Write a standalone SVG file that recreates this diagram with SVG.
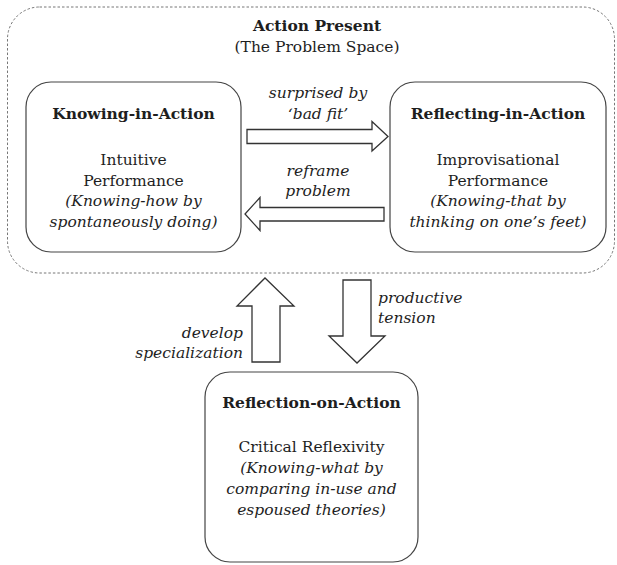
<svg xmlns="http://www.w3.org/2000/svg" width="617" height="565" viewBox="0 0 617 565">
<style>
text{font-family:"DejaVu Serif","Liberation Serif",serif;font-size:15.5px;fill:#1e1e1e}
.b{font-weight:bold}
.i{font-style:italic}
.c{text-anchor:middle}
.e{text-anchor:end}
.box{fill:#fff;stroke:#444;stroke-width:1.2}
.arr{fill:#fff;stroke:#333;stroke-width:1.3;stroke-linejoin:miter}
.dash{fill:none;stroke:#777;stroke-width:1;stroke-dasharray:2.5 2}
</style>
<rect width="617" height="565" fill="#fff"/>
<g id="action-present">
<rect class="dash" x="7.5" y="7" width="607" height="266" rx="32"/>
<text class="b c" x="317" y="31">Action Present</text>
<text class="c" x="317" y="52">(The Problem Space)</text>
</g>
<g id="knowing-in-action">
<rect class="box" x="26" y="82" width="215" height="170" rx="25"/>
<text class="b c" x="133.5" y="119">Knowing-in-Action</text>
<text class="c" x="133.5" y="165">Intuitive</text>
<text class="c" x="133.5" y="185.5">Performance</text>
<text class="c i" x="133.5" y="206">(Knowing-how by</text>
<text class="c i" x="133.5" y="226.5">spontaneously doing)</text>
</g>
<g id="reflecting-in-action">
<rect class="box" x="390" y="82" width="216" height="170" rx="25"/>
<text class="b c" x="498" y="119">Reflecting-in-Action</text>
<text class="c" x="498" y="165">Improvisational</text>
<text class="c" x="498" y="185.5">Performance</text>
<text class="c i" x="498" y="206">(Knowing-that by</text>
<text class="c i" x="498" y="226.5">thinking on one’s feet)</text>
</g>
<g id="reflection-on-action">
<rect class="box" x="205" y="372" width="213" height="190" rx="25"/>
<text class="b c" x="311.5" y="408">Reflection-on-Action</text>
<text class="c" x="311.5" y="452">Critical Reflexivity</text>
<text class="c i" x="311.5" y="473">(Knowing-what by</text>
<text class="c i" x="311.5" y="494">comparing in-use and</text>
<text class="c i" x="311.5" y="515">espoused theories)</text>
</g>
<g id="connectors">
<polygon class="arr" points="247,129.5 372,129.5 372,121.5 388,136.5 372,151 372,143.5 247,143.5"/>
<polygon class="arr" points="384,207.5 260,207.5 260,197.5 245,214 260,230.5 260,221 384,221"/>
<polygon class="arr" points="252,362 252,306 237,306 265,278 294,306 280,306 280,362"/>
<polygon class="arr" points="343,280 371,280 371,336 385,336 357,363 329,336 343,336"/>
<text class="c i" x="318" y="98">surprised by</text>
<text class="c i" x="318" y="119">‘bad fit’</text>
<text class="c i" x="318" y="176">reframe</text>
<text class="c i" x="318" y="196">problem</text>
<text class="i" x="378" y="303">productive</text>
<text class="i" x="378" y="323">tension</text>
<text class="e i" x="243" y="338">develop</text>
<text class="e i" x="243" y="358">specialization</text>
</g>
</svg>
